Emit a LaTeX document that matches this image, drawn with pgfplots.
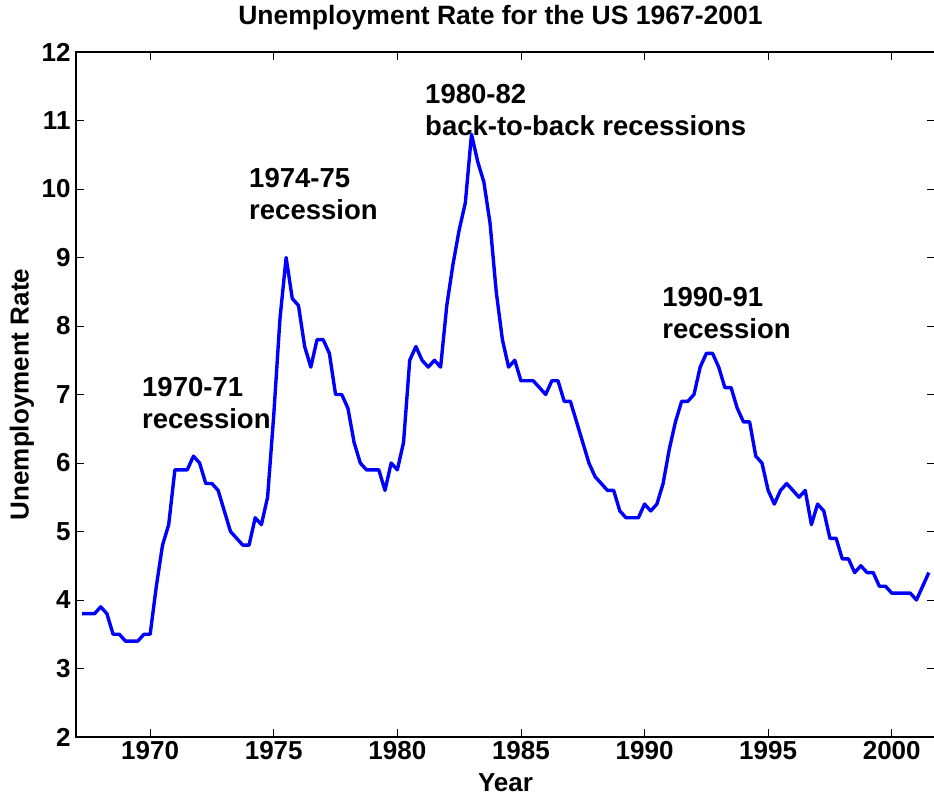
\documentclass[border=0pt]{standalone}
\usepackage{fontspec}
\setmainfont{Liberation Sans}
\usepackage{pgfplots}
\pgfplotsset{compat=1.18}

\pgfplotstableread{
t v
1967.25 3.8
1967.5 3.8
1967.75 3.8
1968 3.9
1968.25 3.8
1968.5 3.5
1968.75 3.5
1969 3.4
1969.25 3.4
1969.5 3.4
1969.75 3.5
1970 3.5
1970.25 4.2
1970.5 4.8
1970.75 5.1
1971 5.9
1971.25 5.9
1971.5 5.9
1971.75 6.1
1972 6.0
1972.25 5.7
1972.5 5.7
1972.75 5.6
1973 5.3
1973.25 5.0
1973.5 4.9
1973.75 4.8
1974 4.8
1974.25 5.2
1974.5 5.1
1974.75 5.5
1975 6.7
1975.25 8.1
1975.5 9.0
1975.75 8.4
1976 8.3
1976.25 7.7
1976.5 7.4
1976.75 7.8
1977 7.8
1977.25 7.6
1977.5 7.0
1977.75 7.0
1978 6.8
1978.25 6.3
1978.5 6.0
1978.75 5.9
1979 5.9
1979.25 5.9
1979.5 5.6
1979.75 6.0
1980 5.9
1980.25 6.3
1980.5 7.5
1980.75 7.7
1981 7.5
1981.25 7.4
1981.5 7.5
1981.75 7.4
1982 8.3
1982.25 8.9
1982.5 9.4
1982.75 9.8
1983 10.8
1983.25 10.4
1983.5 10.1
1983.75 9.5
1984 8.5
1984.25 7.8
1984.5 7.4
1984.75 7.5
1985 7.2
1985.25 7.2
1985.5 7.2
1985.75 7.1
1986 7.0
1986.25 7.2
1986.5 7.2
1986.75 6.9
1987 6.9
1987.25 6.6
1987.5 6.3
1987.75 6.0
1988 5.8
1988.25 5.7
1988.5 5.6
1988.75 5.6
1989 5.3
1989.25 5.2
1989.5 5.2
1989.75 5.2
1990 5.4
1990.25 5.3
1990.5 5.4
1990.75 5.7
1991 6.2
1991.25 6.6
1991.5 6.9
1991.75 6.9
1992 7.0
1992.25 7.4
1992.5 7.6
1992.75 7.6
1993 7.4
1993.25 7.1
1993.5 7.1
1993.75 6.8
1994 6.6
1994.25 6.6
1994.5 6.1
1994.75 6.0
1995 5.6
1995.25 5.4
1995.5 5.6
1995.75 5.7
1996 5.6
1996.25 5.5
1996.5 5.6
1996.75 5.1
1997 5.4
1997.25 5.3
1997.5 4.9
1997.75 4.9
1998 4.6
1998.25 4.6
1998.5 4.4
1998.75 4.5
1999 4.4
1999.25 4.4
1999.5 4.2
1999.75 4.2
2000 4.1
2000.25 4.1
2000.5 4.1
2000.75 4.1
2001 4.0
2001.25 4.2
2001.5 4.4
}\unemp

\newcommand{\lbl}{\bfseries\fontsize{26}{32}\selectfont}
\newcommand{\note}{\bfseries\fontsize{27.5}{32}\selectfont}

\begin{document}
\begin{tikzpicture}
\begin{axis}[
    name=ax,
    scale only axis,
    width=859pt, height=685pt,
    xmin=1967, xmax=2001.75,
    ymin=2, ymax=12,
    enlargelimits=false,
    xtick={1970,1975,...,2000},
    ytick={2,3,...,12},
    tick align=inside,
    major tick length=8.5pt,
    axis line style={line width=1.2pt},
    every tick/.style={black, line width=0.8pt},
    ticklabel style={font=\lbl},
    /pgf/number format/1000 sep={},
    /pgf/number format/assume math mode=true,
    scaled ticks=false,
    xticklabel style={yshift=-1pt},
    yticklabel style={xshift=-2pt},
    clip=false,
]
\addplot[color=blue, line width=3.4pt, line join=round] table[x=t, y=v] {\unemp};

% recession notes, left edge at the given year
\node[font=\note, align=left, anchor=west, inner sep=0pt] at (axis cs:1969.67,6.87) {1970-71\\recession};
\node[font=\note, align=left, anchor=west, inner sep=0pt] at (axis cs:1974.0,9.93) {1974-75\\recession};
\node[font=\note, align=left, anchor=west, inner sep=0pt] at (axis cs:1981.12,11.15) {1980-82\\back-to-back recessions};
\node[font=\note, align=left, anchor=west, inner sep=0pt] at (axis cs:1990.71,8.19) {1990-91\\recession};
\end{axis}
\node[font=\bfseries\fontsize{26.5}{32}\selectfont] at ([xshift=-5pt,yshift=34pt]ax.north) {Unemployment Rate for the US 1967-2001};
\node[font=\lbl, rotate=90] at ([xshift=-54pt]ax.west) {Unemployment Rate};
\node[font=\lbl] at ([yshift=-46pt]ax.south) {Year};
\pgfresetboundingbox
\path[use as bounding box] ([xshift=-76pt,yshift=-60pt]ax.south west) rectangle ([xshift=-1pt,yshift=52pt]ax.north east);
\end{tikzpicture}
\end{document}
